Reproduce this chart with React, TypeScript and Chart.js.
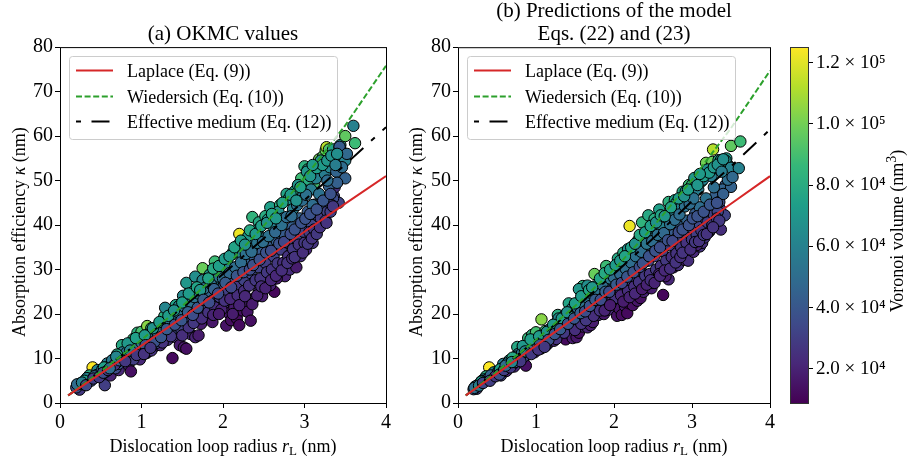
import React, { useEffect, useRef } from "react";
import { Chart, registerables } from "chart.js";

Chart.register(...registerables);

const SERIF = '"Liberation Serif", serif';

// One entry per dislocation loop. Volumes are in units of 1000 nm^3.
const radius = [
  0.40,0.36,0.76,0.90,0.95,1.00,1.07,1.12,
  1.28,1.42,1.60,1.75,1.90,2.05,2.12,2.20,
  2.36,2.44,2.52,2.58,2.70,2.78,2.88,2.96,
  3.00,3.04,3.12,3.18,3.23,3.26,3.27,3.30,
  3.34,3.44,3.50,3.62,3.35,3.46,3.05,2.98,
  0.22,0.33,0.46,0.58,0.66,0.77,0.88,0.97,
  1.08,1.17,1.27,1.29,1.38,1.46,1.51,1.55,
  1.60,1.66,1.75,1.84,1.90,1.97,2.05,2.12,
  2.18,2.24,2.31,2.38,2.43,2.50,2.55,2.62,
  2.68,2.74,2.80,2.86,2.92,2.98,3.03,3.08,
  3.14,3.20,3.25,3.31,3.37,3.43,3.50,3.60,
  0.24,0.55,0.62,0.72,0.84,0.87,0.98,1.06,
  1.15,1.23,1.32,1.38,1.42,1.47,1.52,1.55,
  1.60,1.66,1.70,1.73,1.80,1.87,1.93,2.00,
  2.04,2.07,2.10,2.14,2.17,2.20,2.24,2.28,
  2.30,2.34,2.38,2.44,2.48,2.50,2.56,2.63,
  2.70,2.76,2.82,2.90,2.95,3.02,3.10,3.13,
  3.22,3.30,3.36,3.37,3.42,3.24,3.16,3.06,
  0.20,0.28,0.38,0.45,0.50,0.56,0.62,0.68,
  0.72,0.78,0.84,0.90,0.96,1.02,1.08,1.13,
  1.18,1.22,1.28,1.33,1.37,1.43,1.48,1.52,
  1.56,1.62,1.67,1.72,1.78,1.82,1.87,1.92,
  1.96,2.01,2.06,2.11,2.16,2.21,2.26,2.30,
  2.34,2.39,2.44,2.48,2.52,2.57,2.62,2.66,
  2.71,2.76,2.80,2.85,2.90,2.94,2.99,3.04,
  3.09,3.13,3.17,3.21,3.26,3.30,3.35,3.43,
  3.39,3.50,3.46,3.52,3.40,3.28,3.18,3.10,
  0.25,0.30,0.42,0.52,0.60,0.64,0.70,0.74,
  0.82,0.92,1.00,1.10,1.20,1.25,1.35,1.40,
  1.45,1.53,1.58,1.65,1.70,1.77,1.85,1.95,
  2.00,2.08,2.15,2.22,2.28,2.35,2.42,2.49,
  2.56,2.64,2.72,2.78,2.84,2.91,2.97,3.02,
  1.12,1.26,1.36,1.50,1.58,1.64,1.74,1.82,
  1.90,1.98,2.02,2.09,2.18,2.26,2.32,2.40,
  2.46,2.54,2.60,2.67,2.74,2.80,2.86,2.93,
  3.00,3.06,3.12,3.20,3.28,3.33,2.58,2.66,
  0.30,0.54,0.70,0.83,0.93,1.04,1.14,1.22,
  1.33,1.40,1.50,1.58,1.68,1.72,1.82,1.88,
  1.95,2.02,2.08,2.14,2.22,2.27,2.33,2.40,
  2.47,2.54,2.60,2.65,2.73,2.83,2.90,2.95,
  3.07,3.15,3.22,3.28,3.33,3.40,3.10,3.38,
  1.05,1.16,1.24,1.31,1.41,1.49,1.57,1.63,
  1.69,1.76,1.83,1.89,1.94,2.03,2.10,2.17,
  2.25,2.33,2.37,2.45,2.53,2.59,2.69,2.75,
  2.83,2.88,2.96,3.01,3.07,3.15,3.23,3.32,
  1.88,1.95,2.12,2.20,2.27,2.36,2.42,2.47,
  2.52,2.59,2.65,2.72,2.79,2.85,2.88,2.98,
  3.04,3.09,3.15,3.19,3.26,3.32,3.35,3.27,
  0.21,0.27,0.32,0.41,0.48,0.53,0.59,0.67,
  0.73,0.80,0.86,0.94,1.03,1.11,0.61,0.69,
];

const kappaOkmc = [
  8.0,6.2,13.0,14.4,15.8,16.0,17.3,16.8,
  19.5,22.0,25.4,30.3,31.8,31.8,33.5,38.0,
  41.8,40.6,42.0,44.0,44.5,47.0,47.6,50.5,
  53.2,52.5,49.5,54.8,55.5,56.8,57.5,57.0,
  54.8,58.0,60.0,58.4,57.0,56.5,50.0,48.0,
  3.8,5.6,7.4,8.9,9.8,11.4,13.4,14.1,
  15.4,16.4,18.0,21.4,19.2,21.8,24.1,27.0,
  23.3,28.4,27.6,28.9,27.8,29.6,30.5,33.8,
  35.4,33.2,37.5,35.5,39.0,37.0,41.2,39.5,
  43.0,41.5,45.8,43.6,49.0,46.5,52.0,48.0,
  50.5,54.5,51.5,53.0,55.0,57.5,54.5,62.3,
  3.0,4.0,6.2,7.4,8.6,7.1,9.8,11.2,
  12.6,13.0,14.2,10.1,14.8,13.0,12.5,12.2,
  15.5,14.8,15.2,17.8,19.4,18.2,20.5,22.0,
  17.4,20.2,18.6,21.5,19.0,17.5,20.8,22.4,
  20.5,18.5,23.5,25.0,24.0,26.2,27.5,25.0,
  29.5,28.5,30.0,30.5,33.0,34.5,36.0,41.8,
  40.5,44.8,46.5,48.5,45.0,42.8,40.0,37.5,
  3.5,4.2,5.0,6.3,6.2,7.0,8.4,7.8,
  8.8,10.0,10.4,9.8,11.5,12.8,11.6,13.8,
  13.5,15.0,15.8,17.5,16.2,18.4,16.8,20.0,
  18.4,21.0,19.2,22.5,21.4,24.4,23.0,25.0,
  23.8,26.5,25.0,27.5,26.2,30.0,27.6,31.5,
  29.2,32.5,30.5,33.8,31.5,35.0,33.0,36.4,
  34.5,37.8,36.0,39.5,37.0,41.5,38.5,43.0,
  40.0,44.6,42.0,46.0,44.0,48.8,46.0,57.6,
  52.0,50.5,53.0,56.0,49.5,50.0,47.0,44.5,
  4.4,4.8,6.0,7.6,8.2,9.6,9.2,10.2,
  11.4,12.6,13.6,14.4,15.6,16.8,18.6,19.4,
  20.4,21.6,22.6,23.8,24.6,25.8,26.8,28.4,
  28.0,29.2,30.5,31.6,33.5,34.0,36.0,36.2,
  37.5,38.4,40.0,41.8,42.0,44.5,45.5,46.8,
  11.8,13.6,15.0,15.2,17.0,18.0,19.0,20.4,
  21.5,21.0,23.0,23.4,24.2,25.2,26.4,27.6,
  28.0,29.4,30.0,31.4,31.5,33.0,34.6,35.6,
  36.0,38.4,39.0,41.5,43.0,44.5,26.5,28.0,
  5.0,8.0,10.9,13.4,14.6,15.2,16.8,18.2,
  19.6,20.8,22.6,24.6,26.0,25.4,28.0,30.2,
  30.8,32.4,33.0,35.0,36.5,35.6,38.8,38.0,
  39.8,40.5,42.5,41.5,45.0,46.8,45.5,48.5,
  51.0,52.8,53.5,54.5,55.6,56.0,53.5,53.5,
  13.0,13.8,14.8,16.6,17.6,18.6,20.4,19.8,
  21.4,23.2,22.6,25.6,24.6,27.0,26.0,28.6,
  29.4,30.0,31.0,32.2,33.8,34.2,35.8,36.2,
  38.0,39.0,40.5,41.4,42.5,43.5,45.5,47.0,
  19.8,20.0,20.0,22.0,24.0,22.2,24.2,26.2,
  25.8,27.6,28.6,29.8,31.5,32.5,32.8,33.8,
  35.8,37.0,38.0,39.5,41.0,43.0,44.2,40.5,
  4.2,4.6,4.0,5.5,5.8,6.8,7.4,8.6,
  9.6,9.4,11.8,10.8,11.0,12.4,7.8,10.4,
];

const kappaModel = [
  8.0,6.0,12.6,14.6,15.3,15.9,18.8,16.2,
  19.8,22.4,26.3,29.0,30.8,32.5,33.8,39.8,
  40.6,42.2,41.4,43.5,45.2,45.6,47.5,49.0,
  49.0,47.8,49.8,54.0,52.8,54.2,57.0,52.5,
  54.6,55.0,57.8,58.8,52.5,53.5,49.8,47.8,
  3.7,5.3,6.9,8.8,9.6,11.0,12.6,14.1,
  15.2,16.5,18.2,19.0,20.0,21.2,22.0,25.6,
  23.6,26.4,26.2,27.8,28.0,29.2,30.5,31.7,
  34.6,33.2,36.6,35.7,38.4,37.0,40.0,39.4,
  42.2,41.8,45.0,44.0,47.6,46.4,50.6,48.0,
  50.2,52.5,51.0,52.8,54.6,54.5,52.9,52.8,
  3.2,6.2,7.2,8.2,9.9,8.4,11.4,12.2,
  13.3,14.0,15.0,14.3,15.8,14.6,14.8,15.8,
  17.2,17.0,17.5,18.2,19.8,20.0,21.0,22.6,
  19.6,21.2,19.8,21.8,20.2,22.4,22.0,23.4,
  23.0,23.6,25.0,26.0,25.8,27.0,28.4,24.3,
  27.8,30.5,31.0,32.2,32.0,34.0,35.2,36.0,
  38.5,41.5,43.6,39.0,42.2,39.0,37.2,35.5,
  3.1,4.2,5.4,5.9,6.6,7.2,7.9,8.4,
  9.1,10.1,10.4,11.6,12.0,12.7,13.4,14.0,
  14.8,15.2,16.2,17.3,17.2,18.4,18.2,20.0,
  19.2,21.0,20.8,22.8,22.8,24.2,24.2,25.6,
  24.8,26.6,26.0,27.5,27.2,29.0,28.4,30.6,
  30.0,32.5,32.0,34.0,33.0,35.2,34.2,36.2,
  35.5,37.8,37.0,39.6,38.5,41.0,39.5,42.5,
  40.4,43.6,41.5,45.0,43.0,46.6,45.2,49.0,
  48.0,48.6,50.2,50.8,47.0,48.5,46.0,44.0,
  4.0,4.9,6.2,7.2,8.2,9.0,9.7,10.4,
  11.2,12.6,13.8,14.7,16.0,16.8,18.6,19.2,
  20.2,21.4,22.4,23.8,24.8,25.6,26.6,28.0,
  28.2,29.0,30.2,31.6,33.0,34.0,35.8,36.4,
  37.8,38.2,40.2,41.2,42.4,44.2,44.8,46.0,
  12.8,14.4,15.8,16.4,17.8,18.6,19.6,20.8,
  21.8,23.0,23.6,24.2,25.2,26.2,27.2,28.6,
  29.0,30.0,30.8,32.0,32.8,33.6,35.0,36.0,
  36.8,37.8,38.8,40.6,42.4,43.0,29.0,28.5,
  4.8,7.6,10.2,12.8,14.3,15.0,16.0,17.6,
  19.0,20.4,22.4,24.0,25.4,26.0,28.0,29.2,
  30.0,31.0,32.0,33.0,35.0,35.8,37.8,38.4,
  39.8,40.6,42.2,42.0,44.0,46.0,46.5,48.0,
  49.0,51.0,51.8,53.0,53.6,54.8,51.5,52.0,
  13.1,14.2,15.5,16.6,17.8,19.0,20.2,20.6,
  21.8,23.2,23.2,25.0,25.0,26.6,27.0,28.4,
  29.4,30.6,31.4,33.0,34.2,35.0,36.6,36.4,
  38.4,39.0,40.0,41.5,42.0,43.0,44.6,45.0,
  20.8,22.0,22.8,23.8,24.6,25.6,26.6,27.6,
  27.0,28.6,29.8,30.2,31.6,32.8,33.8,34.5,
  36.2,36.4,37.8,38.0,40.0,41.5,41.0,39.5,
  3.4,3.9,4.5,5.0,6.0,6.4,7.4,8.0,
  9.2,9.4,11.6,11.0,12.0,12.6,8.4,9.2,
];

const volumeK = [
  125,80,78,86,82,90,104,88,
  80,76,82,98,88,78,80,122,
  84,78,80,74,82,76,78,88,
  82,76,90,100,94,98,112,92,
  78,72,96,88,76,74,80,72,
  55,60,62,58,64,56,66,60,
  63,57,65,62,55,60,64,70,
  58,66,62,68,60,64,58,69,
  66,60,70,58,68,56,72,60,
  66,58,70,60,68,56,70,58,
  60,66,58,62,64,66,60,60,
  28,30,20,22,24,14,22,24,
  26,22,26,12,24,18,16,14,
  22,20,18,18,24,16,22,24,
  15,16,13,18,12,12,14,18,
  16,14,20,22,18,22,24,11,
  22,20,24,18,24,22,26,24,
  26,28,30,24,32,28,26,20,
  38,40,36,42,34,44,40,35,
  38,42,36,30,40,44,32,46,
  36,42,34,46,36,42,32,46,
  34,42,30,44,34,46,32,42,
  30,40,30,38,28,44,32,46,
  34,42,32,42,30,42,32,44,
  30,42,34,44,32,46,32,42,
  34,44,36,46,38,44,36,42,
  46,45,50,48,44,50,52,50,
  48,52,46,50,52,56,50,48,
  52,50,54,50,54,50,54,52,
  52,50,52,52,54,52,50,54,
  50,48,50,50,52,50,54,50,
  52,48,52,50,50,52,50,52,
  26,26,28,24,26,28,24,26,
  24,20,26,22,24,24,26,28,
  26,28,26,28,24,26,28,26,
  28,30,28,30,32,34,20,18,
  72,74,78,70,74,72,68,72,
  72,68,74,72,76,70,76,78,
  74,72,70,76,74,68,78,72,
  74,68,76,70,76,72,68,74,
  70,74,72,70,68,66,72,58,
  40,38,40,42,38,40,44,36,
  40,42,36,44,36,42,34,40,
  38,36,38,38,38,36,38,34,
  36,38,38,38,38,38,40,38,
  20,18,18,20,22,18,20,24,
  20,22,22,24,26,24,26,24,
  28,26,28,26,30,30,28,26,
  50,58,34,30,28,36,30,28,
  44,28,60,28,26,28,50,62,
];

const lineRadius = [0.1, 0.5, 1, 1.5, 2, 2.5, 3, 3.5, 4];
const laplace = [1.7, 6.6, 12.9, 19.2, 25.7, 32.1, 38.5, 44.8, 51];
const wiedersichA = [1.7, 7.1, 14.2, 21.8, 30, 39.8, 50.6, 62.4, 75.8];
const wiedersichB = [1.7, 7.1, 14.2, 21.8, 30, 39.6, 50.2, 61.8, 74.7];
const effectiveA = [1.7, 7.1, 14.1, 21.4, 29, 37, 45.6, 53.6, 62];
const effectiveB = [1.7, 7.1, 14.1, 21.4, 29, 37, 45.4, 53.2, 61.5];

const seriesNames = ["Laplace (Eq. (9))", "Wiedersich (Eq. (10))", "Effective medium (Eq. (12))"];
const axisTicks = { x: [0, 1, 2, 3, 4], y: [0, 10, 20, 30, 40, 50, 60, 70, 80] };
const colorbarTicks = [20000, 40000, 60000, 80000, 100000, 120000];
const colorbarRange = [8900, 125100];
const superscripts: Record<string, string> = { "4": "\u2074", "5": "\u2075" };

const viridisStops = ["#440154", "#482878", "#3e4a89", "#31688e", "#26828e", "#1f9e89", "#35b779", "#6ece58", "#b5de2b", "#fde725"];

const hex = (c: string) => [1, 3, 5].map((i) => parseInt(c.slice(i, i + 2), 16));
function viridis(t: number) {
  const p = Math.min(0.9999, Math.max(0, t)) * (viridisStops.length - 1);
  const i = Math.floor(p);
  const a = hex(viridisStops[i]);
  const b = hex(viridisStops[i + 1]);
  const m = a.map((v, k) => Math.round(v + (b[k] - v) * (p - i)));
  return `rgb(${m[0]},${m[1]},${m[2]})`;
}
const volumeColor = (v: number) => viridis((v * 1000 - colorbarRange[0]) / (colorbarRange[1] - colorbarRange[0]));

type Run = { t: string; font: string; dy?: number };
function drawRuns(ctx: CanvasRenderingContext2D, runs: Run[], x: number, y: number, rotate = 0) {
  ctx.save();
  ctx.translate(x, y);
  ctx.rotate(rotate);
  ctx.textBaseline = "alphabetic";
  ctx.textAlign = "left";
  ctx.fillStyle = "#000";
  let total = 0;
  runs.forEach((r) => { ctx.font = r.font; total += ctx.measureText(r.t).width; });
  let cx = -total / 2;
  runs.forEach((r) => {
    ctx.font = r.font;
    ctx.fillText(r.t, cx, r.dy || 0);
    cx += ctx.measureText(r.t).width;
  });
  ctx.restore();
}

const LABEL = `18px ${SERIF}`;
const LABEL_I = `italic 18px ${SERIF}`;

function panelPlugin(yLabelX: number) {
  return {
    id: "panelDecor",
    afterDatasetsDraw(chart: any) {
      const { ctx, chartArea: a } = chart;
      ctx.save();
      ctx.strokeStyle = "#000";
      ctx.lineWidth = 1;
      ctx.strokeRect(a.left + 0.5, a.top + 0.5, a.right - a.left, a.bottom - a.top);

      // legend box
      const bx = a.left + 9, by = 56, bw = 268, bh = 83;
      ctx.beginPath();
      ctx.roundRect(bx + 0.5, by + 0.5, bw, bh, 3);
      ctx.fillStyle = "rgba(255,255,255,0.8)";
      ctx.fill();
      ctx.strokeStyle = "#cccccc";
      ctx.stroke();
      const rows = [70, 96, 121];
      chart.data.datasets.slice(0, 3).forEach((ds: any, i: number) => {
        ctx.save();
        ctx.beginPath();
        ctx.strokeStyle = ds.borderColor;
        ctx.lineWidth = ds.borderWidth;
        ctx.setLineDash(ds.borderDash || []);
        ctx.moveTo(a.left + 16, rows[i] + 0.5);
        ctx.lineTo(a.left + 53, rows[i] + 0.5);
        ctx.stroke();
        ctx.restore();
        ctx.fillStyle = "#000";
        ctx.font = LABEL;
        ctx.textAlign = "left";
        ctx.textBaseline = "middle";
        ctx.fillText(ds.label, a.left + 67, rows[i] + 2);
      });
      ctx.restore();

      const mid = (a.left + a.right) / 2;
      drawRuns(ctx, [
        { t: "Dislocation loop radius ", font: LABEL },
        { t: "r", font: LABEL_I },
        { t: "L", font: `13px ${SERIF}`, dy: 3 },
        { t: " (nm)", font: LABEL },
      ], mid, 452);
      drawRuns(ctx, [
        { t: "Absorption efficiency ", font: LABEL },
        { t: "\u03BA", font: LABEL_I },
        { t: " (nm)", font: LABEL },
      ], yLabelX, (a.top + a.bottom) / 2 + 7, -Math.PI / 2);
    },
  };
}

function panelConfig(
  title: string | string[],
  titlePadTop: number,
  kappa: number[],
  wiedersich: number[],
  effective: number[],
  yWidth: number,
  paddingRight: number,
  yLabelX: number,
) {
  const lineData = (vals: number[]) => lineRadius.map((x, i) => ({ x, y: vals[i] }));
  return {
    type: "scatter",
    data: {
      datasets: [
        { label: seriesNames[0], data: lineData(laplace), showLine: true, pointRadius: 0, borderColor: "#d62728", borderWidth: 2 },
        { label: seriesNames[1], data: lineData(wiedersich), showLine: true, pointRadius: 0, borderColor: "#2ca02c", borderWidth: 2, borderDash: [6, 2.6] },
        { label: seriesNames[2], data: lineData(effective), showLine: true, pointRadius: 0, borderColor: "#000000", borderWidth: 2, borderDash: [5, 10.5, 18, 10.5] },
        {
          label: "OKMC",
          data: radius.map((x, i) => ({ x, y: kappa[i] })),
          pointRadius: 5.7,
          pointBorderWidth: 1,
          pointBorderColor: "#000000",
          pointBackgroundColor: volumeK.map(volumeColor),
        },
      ],
    },
    options: {
      responsive: false,
      animation: false,
      events: [],
      devicePixelRatio: 1,
      layout: { padding: { left: 0, right: paddingRight, top: titlePadTop, bottom: 0 } },
      plugins: {
        legend: { display: false },
        tooltip: { enabled: false },
        title: {
          display: true,
          text: title,
          fullSize: false,
          color: "#000",
          font: { size: 21, family: SERIF, weight: "normal", lineHeight: 1.1 },
          padding: { top: 0, bottom: 1 },
        },
      },
      scales: {
        x: {
          type: "linear",
          min: 0,
          max: 4,
          afterFit: (s: any) => { s.height = 59; },
          afterBuildTicks: (s: any) => { s.ticks = axisTicks.x.map((value) => ({ value })); },
          grid: { display: true, drawOnChartArea: false, drawTicks: true, tickLength: 5, tickColor: "#000", color: "#000" },
          border: { display: false },
          ticks: { color: "#000", font: { size: 20, family: SERIF }, padding: 3, maxRotation: 0, autoSkip: false },
        },
        y: {
          type: "linear",
          min: 0,
          max: 80,
          afterFit: (s: any) => { s.width = yWidth; },
          afterBuildTicks: (s: any) => { s.ticks = axisTicks.y.map((value) => ({ value })); },
          grid: { display: true, drawOnChartArea: false, drawTicks: true, tickLength: 5, tickColor: "#000", color: "#000" },
          border: { display: false },
          ticks: { color: "#000", font: { size: 20, family: SERIF }, padding: 2, autoSkip: false },
        },
      },
    },
    plugins: [panelPlugin(yLabelX)],
  };
}

function colorbarConfig() {
  return {
    type: "bar",
    data: {
      labels: ["Voronoi volume"],
      datasets: [
        {
          label: "Voronoi volume",
          data: [colorbarRange],
          barPercentage: 1,
          categoryPercentage: 1,
          borderWidth: 0,
          backgroundColor: (ctx: any) => {
            const a = ctx.chart.chartArea;
            if (!a) return viridisStops[0];
            const g = ctx.chart.ctx.createLinearGradient(0, a.bottom, 0, a.top);
            viridisStops.forEach((c, i) => g.addColorStop(i / (viridisStops.length - 1), c));
            return g;
          },
        },
      ],
    },
    options: {
      responsive: false,
      animation: false,
      events: [],
      devicePixelRatio: 1,
      layout: { padding: { left: 10, right: 0, top: 47, bottom: 59 } },
      plugins: { legend: { display: false }, tooltip: { enabled: false } },
      scales: {
        x: { display: false },
        y: {
          type: "linear",
          position: "right",
          min: colorbarRange[0],
          max: colorbarRange[1],
          afterFit: (s: any) => { s.width = 100; },
          afterBuildTicks: (s: any) => { s.ticks = colorbarTicks.map((value) => ({ value })); },
          grid: { display: true, drawOnChartArea: false, drawTicks: true, tickLength: 5, tickColor: "#000", color: "#000" },
          border: { display: false },
          ticks: {
            color: "#000",
            font: { size: 19, family: SERIF },
            padding: 3,
            autoSkip: false,
            callback: (v: number) => {
              const e = Math.floor(Math.log10(v));
              return `${(v / 10 ** e).toFixed(1)} \u00D7 10${superscripts[String(e)]}`;
            },
          },
        },
      },
    },
    plugins: [
      {
        id: "colorbarDecor",
        afterDatasetsDraw(chart: any) {
          const { ctx, chartArea: a } = chart;
          ctx.save();
          ctx.strokeStyle = "#333";
          ctx.lineWidth = 1;
          ctx.strokeRect(a.left + 0.5, a.top + 0.5, a.right - a.left, a.bottom - a.top);
          ctx.restore();
          drawRuns(ctx, [
            { t: "Voronoi volume (nm", font: LABEL },
            { t: "3", font: `14px ${SERIF}`, dy: -7 },
            { t: ")", font: LABEL },
          ], 123, 231, -Math.PI / 2);
        },
      },
    ],
  };
}

export default function App() {
  const a = useRef<HTMLCanvasElement>(null);
  const b = useRef<HTMLCanvasElement>(null);
  const c = useRef<HTMLCanvasElement>(null);
  useEffect(() => {
    const charts = [
      new Chart(a.current as any, panelConfig("(a) OKMC values", 23, kappaOkmc, wiedersichA, effectiveA, 60, 22, 24.5) as any),
      new Chart(b.current as any, panelConfig(["(b) Predictions of the model", "Eqs. (22) and (23)"], 0, kappaModel, wiedersichB, effectiveB, 58, 20, 21.5) as any),
      new Chart(c.current as any, colorbarConfig() as any),
    ];
    return () => charts.forEach((ch) => ch.destroy());
  }, []);
  const st = (left: number): React.CSSProperties => ({ position: "absolute", left, top: 0 });
  return (
    <div style={{ position: "absolute", left: 0, top: 0, width: 908, height: 462, background: "#fff" }}>
      <canvas ref={a} width={408} height={462} style={st(0)} />
      <canvas ref={b} width={390} height={462} style={st(400)} />
      <canvas ref={c} width={128} height={462} style={st(780)} />
    </div>
  );
}
